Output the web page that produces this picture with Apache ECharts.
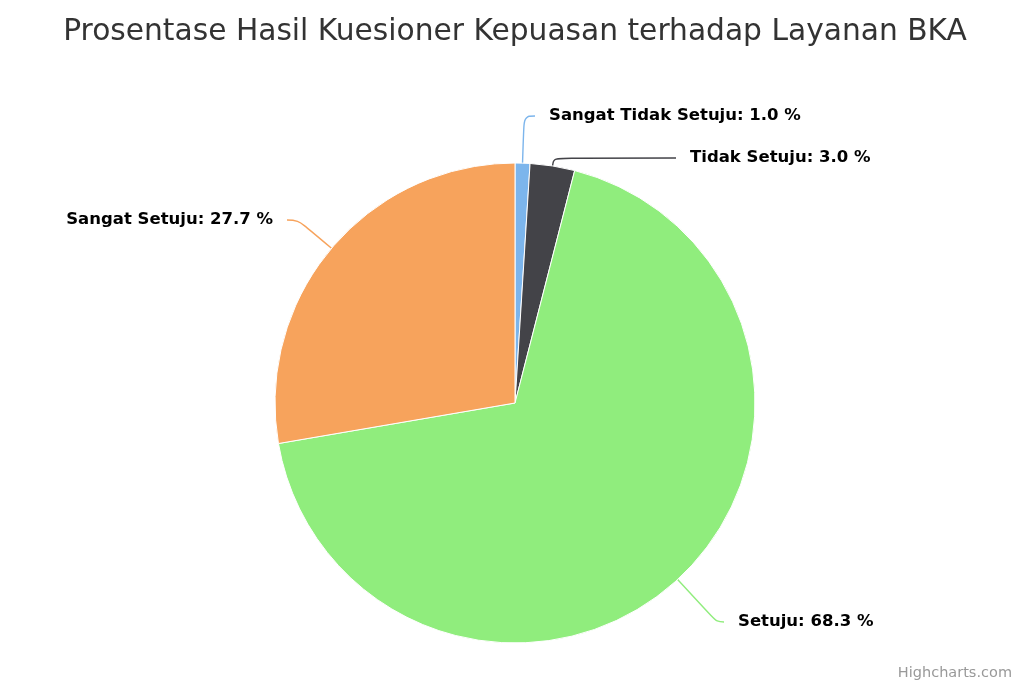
<!DOCTYPE html>
<html><head><meta charset="utf-8">
<script src="https://cdn.jsdelivr.net/npm/echarts@6/dist/echarts.min.js"></script>
<style>html,body{margin:0;padding:0;background:#fff}#c{width:1030px;height:687px}</style>
</head><body><div id="c"></div>
<script>
var categories = ["Sangat Tidak Setuju", "Tidak Setuju", "Setuju", "Sangat Setuju"];
var values = [1.0, 3.0, 68.3, 27.7];
var colors = ["#7cb5ec", "#434348", "#90ed7d", "#f7a35c"];
var titleText = "Prosentase Hasil Kuesioner Kepuasan terhadap Layanan BKA";

var CENTER = [515, 403];
var labelPos = [
  {x: 549, y: 116, align: 'left'},
  {x: 690, y: 158, align: 'left'},
  {x: 738, y: 622, align: 'left'},
  {x: 273, y: 220, align: 'right'}
];

var chart = echarts.init(document.getElementById('c'));
chart.setOption({
  animation: false,
  backgroundColor: '#fff',
  title: {
    text: titleText, left: 'center', top: 12,
    textStyle: {fontFamily: 'DejaVu Sans', fontSize: 29.7, fontWeight: 'normal', color: '#333'}
  },
  graphic: [{
    type: 'text', right: 18, top: 666,
    style: {text: 'Highcharts.com', fill: '#999', font: '14.5px DejaVu Sans'}
  }],
  series: [{
    type: 'pie',
    center: CENTER,
    radius: [0, 240],
    startAngle: 90,
    clockwise: true,
    data: categories.map(function (c, i) {
      return {name: c, value: values[i], itemStyle: {color: colors[i]},
              labelLine: {lineStyle: {color: colors[i]}}};
    }),
    itemStyle: {borderColor: '#fff', borderWidth: 1},
    label: {
      show: true,
      formatter: function (p) { return p.name + ': ' + p.value.toFixed(1) + ' %'; },
      fontFamily: 'DejaVu Sans', fontWeight: 'bold', fontSize: 16.5, color: '#000'
    },
    labelLine: {show: true, smooth: 0.4, length: 20, length2: 10, lineStyle: {width: 1.4}},
    labelLayout: function (p) {
      var lp = labelPos[p.dataIndex];
      var e = p.labelLinePoints[0];
      var dx = e[0] - CENTER[0], dy = e[1] - CENTER[1];
      var len = Math.sqrt(dx * dx + dy * dy);
      dx /= len; dy /= len;
      var t = (lp.y - e[1]) / dy;
      var elbow = [e[0] + dx * t, lp.y];
      var dir = lp.align === 'left' ? 1 : -1;
      var endX = lp.x - dir * 14;
      if ((endX - elbow[0]) * dir < 6) endX = elbow[0] + dir * 6;
      return {
        x: lp.x, y: lp.y, align: lp.align, verticalAlign: 'middle',
        labelLinePoints: [e, elbow, [endX, lp.y]]
      };
    },
    emphasis: {disabled: true}
  }]
});
</script></body></html>
